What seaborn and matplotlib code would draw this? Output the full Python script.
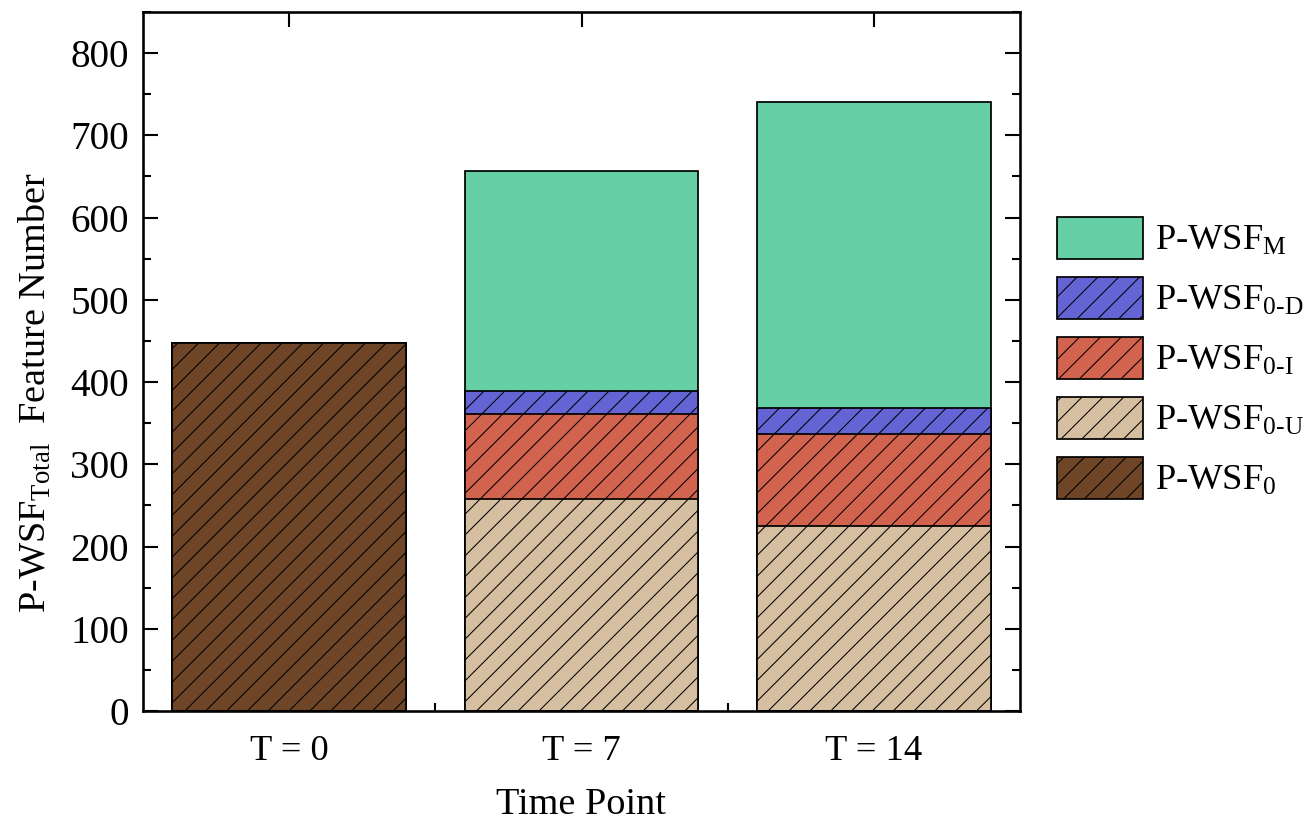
import seaborn as sns
import matplotlib.pyplot as plt
import numpy as np
import pandas as pd
from matplotlib.patches import Patch

# data
categories = ["T = 0", "T = 7", "T = 14"]
wsf0 = [448, 0, 0]
wsf0_u = [0, 258, 225]
wsf0_i = [0, 103, 112]
wsf0_d = [0, 28, 32]
wsf_m = [0, 268, 371]

series_names = ["P-WSF$_\\mathrm{0}$", "P-WSF$_\\mathrm{0\\text{-}U}$",
                "P-WSF$_\\mathrm{0\\text{-}I}$", "P-WSF$_\\mathrm{0\\text{-}D}$",
                "P-WSF$_\\mathrm{M}$"]
colors = ["#6E4526", "#D6BFA1", "#D2634F", "#6464D4", "#66CFA5"]
hatches = ["//", "//", "//", "//", ""]

sns.set_theme(style="ticks")
plt.rcParams['font.family'] = ['Liberation Serif', 'DejaVu Serif']
plt.rcParams['mathtext.fontset'] = 'custom'
plt.rcParams['mathtext.rm'] = 'Liberation Serif'
plt.rcParams['mathtext.it'] = 'Liberation Serif:italic'
plt.rcParams['hatch.linewidth'] = 0.6
plt.rcParams['axes.linewidth'] = 1.5
plt.rcParams['text.color'] = 'black'
plt.rcParams['axes.labelcolor'] = 'black'
plt.rcParams['axes.edgecolor'] = 'black'
plt.rcParams['xtick.color'] = 'black'
plt.rcParams['ytick.color'] = 'black'

fig = plt.figure(figsize=(1309 / 125, 821 / 125), dpi=125)
ax = fig.add_axes([143 / 1309, 1 - 711 / 821, (1020 - 143) / 1309, (711 - 12) / 821])

stack = np.array([wsf0, wsf0_u, wsf0_i, wsf0_d, wsf_m], dtype=float)
cum = np.cumsum(stack, axis=0)

# draw cumulative bars tallest first so lower segments sit on top
for k in range(len(stack) - 1, -1, -1):
    df = pd.DataFrame({"cat": categories, "val": cum[k]})
    sns.barplot(data=df, x="cat", y="val", ax=ax, color=colors[k], saturation=1,
                width=0.8, edgecolor="black", linewidth=1.0, hatch=hatches[k],
                errorbar=None)

ax.set_xlim(-0.5, 2.5)
ax.set_ylim(0, 850)
ax.set_yticks(np.arange(0, 801, 100))
ax.set_yticks(np.arange(50, 851, 100), minor=True)
ax.set_xticks([0.5, 1.5], minor=True)
ax.tick_params(axis="both", which="major", direction="in", length=8.6, width=1.2,
               labelsize=22.5, top=True, right=True, pad=8)
ax.tick_params(axis="both", which="minor", direction="in", length=4.6, width=1.2,
               top=False, right=True)
ax.tick_params(axis="x", which="major", labelsize=21, pad=14)

ax.set_xlabel("Time Point", fontsize=22, labelpad=11)
ax.set_ylabel("P-WSF$_\\mathrm{Total}$  Feature Number", fontsize=22)
ax.yaxis.set_label_coords(-0.102, 0.456)

handles = [Patch(facecolor=colors[k], edgecolor="black", linewidth=1.0, hatch=hatches[k])
           for k in range(len(stack) - 1, -1, -1)]
labels = [series_names[k] for k in range(len(stack) - 1, -1, -1)]
ax.legend(handles, labels, loc="center left", bbox_to_anchor=(1.025, 0.505),
          frameon=False, fontsize=21, handlelength=2.36, handleheight=1.39,
          labelspacing=0.5, handletextpad=0.35, borderaxespad=0)

fig.savefig("out.png", dpi=125)
